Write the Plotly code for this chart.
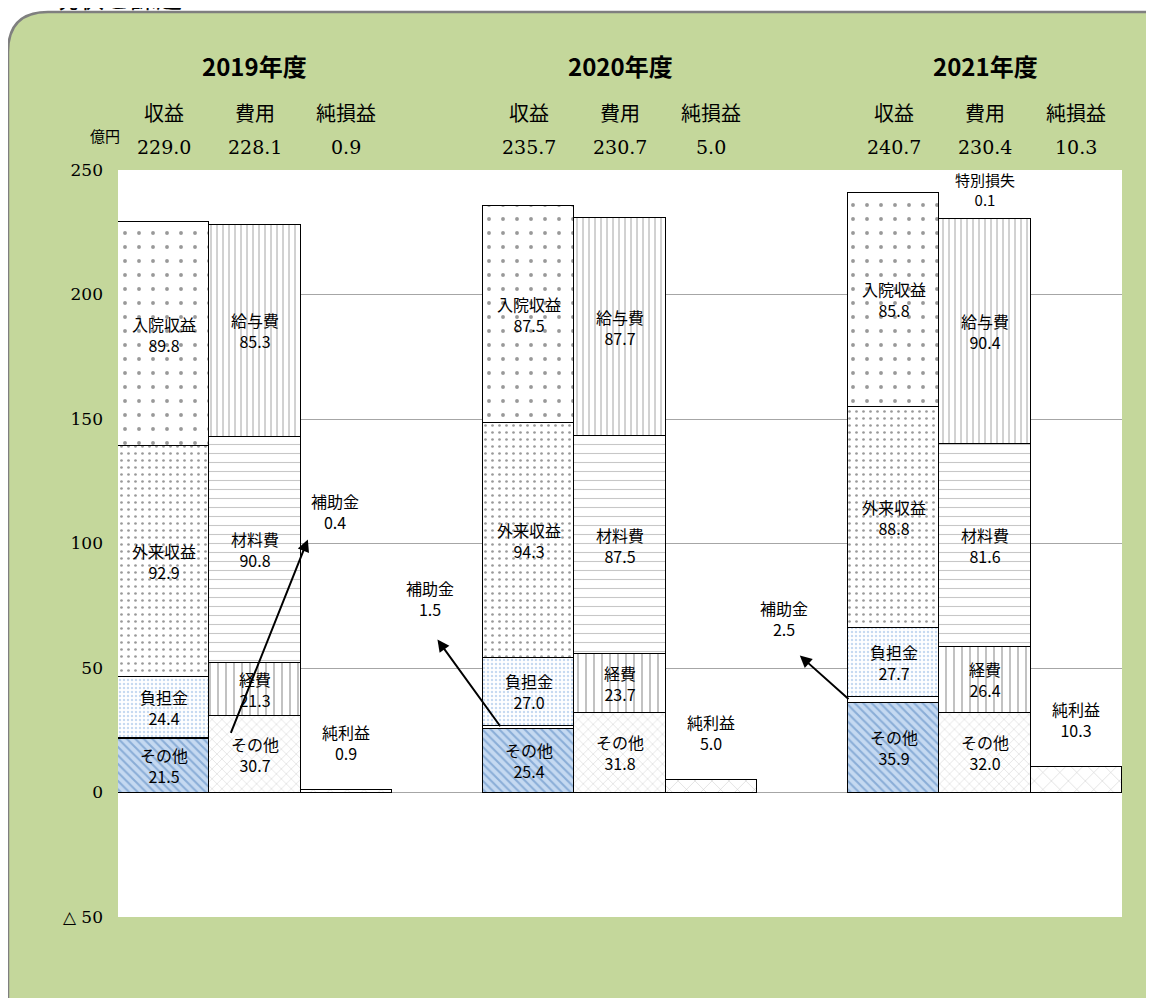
import plotly.graph_objects as go

years = ["2019年度", "2020年度", "2021年度"]
rev_names = ["その他", "補助金", "負担金", "外来収益", "入院収益"]
rev_vals = [[21.5, 0.4, 24.4, 92.9, 89.8], [25.4, 1.5, 27.0, 94.3, 87.5], [35.9, 2.5, 27.7, 88.8, 85.8]]
cost_names = ["その他", "経費", "材料費", "給与費", "特別損失"]
cost_vals = [[30.7, 21.3, 90.8, 85.3, 0.0], [31.8, 23.7, 87.5, 87.7, 0.0], [32.0, 26.4, 81.6, 90.4, 0.1]]
profit_vals = [0.9, 5.0, 10.3]
totals_rev = ["229.0", "235.7", "240.7"]
totals_cost = ["228.1", "230.7", "230.4"]
totals_profit = ["0.9", "5.0", "10.3"]
col_heads = ["収益", "費用", "純損益"]

FONT = "Noto Sans CJK JP"
rev_x = [0, 4, 8]
cost_x = [1, 5, 9]
prof_x = [2, 6, 10]

OFF = 8
L, T, R, B = 118 - OFF, 170 - OFF, 1122 - OFF, 917 - OFF
W, H = 1154, 998

rev_style = [
    dict(bg="#c5d9f1", fg="#4f81bd", shape="\\", size=6, sol=0.35),
    dict(bg="white", fg="black", shape="", size=6, sol=0.3),
    dict(bg="white", fg="#8db3e2", shape=".", size=4, sol=0.3),
    dict(bg="white", fg="#333333", shape=".", size=7, sol=0.12),
    dict(bg="white", fg="#333333", shape=".", size=14, sol=0.06),
]
cost_style = [
    dict(bg="white", fg="#909090", shape="x", size=7, sol=0.12),
    dict(bg="white", fg="black", shape="|", size=8, sol=0.12),
    dict(bg="white", fg="#909090", shape="-", size=9, sol=0.12),
    dict(bg="white", fg="#333333", shape="|", size=6, sol=0.15),
    dict(bg="white", fg="black", shape="", size=6, sol=0.2),
]

fig = go.Figure()
def add(xs, ys, n, s):
    fig.add_bar(x=xs, y=ys, width=1, name=n,
                marker=dict(color=s["bg"], line=dict(color="black", width=1.5),
                            pattern=dict(shape=s["shape"], bgcolor=s["bg"], fgcolor=s["fg"], size=s["size"], solidity=s["sol"])))
for i, n in enumerate(rev_names):
    add(rev_x, [v[i] for v in rev_vals], n, rev_style[i])
for i, n in enumerate(cost_names):
    add(cost_x, [v[i] for v in cost_vals], n, cost_style[i])
add(prof_x, profit_vals, "純利益", dict(bg="white", fg="#909090", shape="x", size=12, sol=0.08))

ann = []
def lab(x, y, t, size=16):
    ann.append(dict(x=x, y=y, text=t, showarrow=False, font=dict(size=size, color="black", family=FONT)))

for k in range(3):
    cum = 0
    for i, n in enumerate(rev_names):
        v = rev_vals[k][i]
        if n != "補助金":
            lab(rev_x[k], cum + v / 2, f"{n}<br>{v:.1f}")
        cum += v
    cum = 0
    for i, n in enumerate(cost_names):
        v = cost_vals[k][i]
        if n != "特別損失":
            lab(cost_x[k], cum + v / 2, f"{n}<br>{v:.1f}")
        cum += v
    lab(prof_x[k], profit_vals[k] + 19, f"純利益<br>{profit_vals[k]:.1f}")
lab(9, 242, "特別損失<br>0.1", size=15)

arrows = [((1.58, 101.6), (0.73, 23.3), (1.88, 113)),
          ((3.0, 61.4), (3.7, 26.0), (2.92, 78)),
          ((6.97, 55.0), (7.52, 37.0), (6.8, 70))]
for k, (h, t, tp) in enumerate(arrows):
    ann.append(dict(x=h[0], y=h[1], ax=t[0], ay=t[1], axref="x", ayref="y", text="",
                    showarrow=True, arrowhead=2, arrowsize=1.2, arrowwidth=2, arrowcolor="black"))
    lab(tp[0], tp[1], f"補助金<br>{rev_vals[k][1]:.1f}")

def py(p):
    return 1 - (p - OFF - T) / (B - T)
def pxx(p):
    return (p - OFF - L) / (R - L)

def hdr(x, y, text, size, fam, xref="x", xanchor="center"):
    ann.append(dict(x=x, y=y, xref=xref, yref="paper", yanchor="middle", xanchor=xanchor, text=text,
                    showarrow=False, font=dict(size=size, family=fam, color="black")))

for k in range(3):
    hdr(cost_x[k], py(65), f"<b>{years[k]}</b>", 24, FONT)
    for j, xx in enumerate([rev_x[k], cost_x[k], prof_x[k]]):
        hdr(xx, py(113), col_heads[j], 20, FONT)
        val = [totals_rev, totals_cost, totals_profit][j][k]
        hdr(xx, py(147), val, 19, "DejaVu Serif")
hdr(pxx(122), py(135), "億円", 15, FONT, xref="paper", xanchor="right")
hdr(pxx(50), py(-4), "現状と課題", 26, FONT, xref="paper", xanchor="left")

x0, y0 = pxx(8), py(12)
x1, y1 = pxx(1200), py(1040)
rx = 40 / (R - L)
ry = 40 / (B - T)
fig.add_shape(type="path", xref="paper", yref="paper", layer="below",
              path=f"M {x0} {y0-ry} Q {x0} {y0} {x0+rx} {y0} L {x1} {y0} L {x1} {y1} L {x0} {y1} Z",
              fillcolor="#c4d79b", line=dict(color="#7f7f7f", width=2.5))
fig.add_shape(type="rect", xref="paper", yref="paper", layer="below", x0=0, y0=0, x1=1, y1=1,
              fillcolor="white", line=dict(width=0))

fig.update_layout(
    width=W, height=H, barmode="stack", showlegend=False, bargap=0,
    paper_bgcolor="white", plot_bgcolor="white",
    margin=dict(l=L, r=W - R, t=T, b=H - B),
    font=dict(family=FONT, color="black"),
    annotations=ann,
)
fig.update_xaxes(range=[-0.5, 10.5], showticklabels=False, showgrid=False, zeroline=False)
fig.update_yaxes(range=[-50, 250], tickvals=[-50, 0, 50, 100, 150, 200, 250],
                 ticktext=["△ 50", "0", "50", "100", "150", "200", "250"],
                 showgrid=True, gridcolor="#a6a6a6", gridwidth=1, zeroline=False,
                 tickfont=dict(size=17, family="DejaVu Serif"), ticks="", ticklabelstandoff=14,
                 showline=False)
fig.write_html("out.html")
